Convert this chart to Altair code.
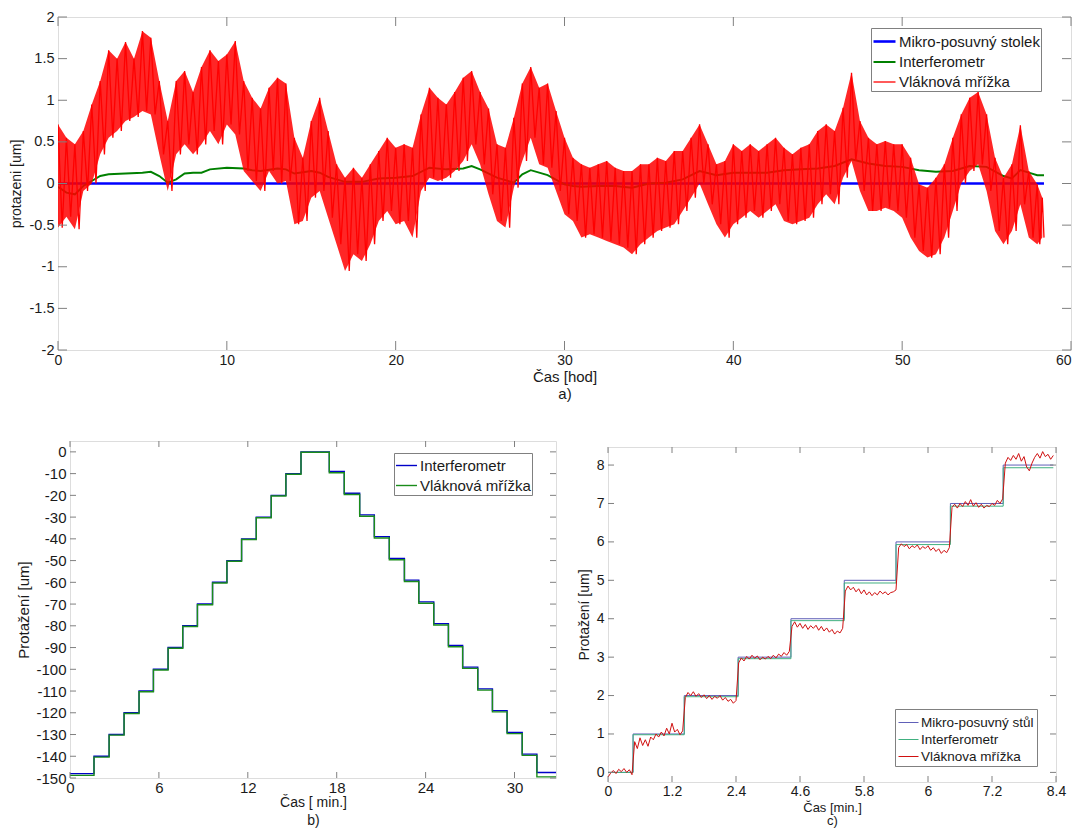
import json
import altair as alt
import pandas as pd

FONT = "Liberation Sans, Arial, sans-serif"
NARROW = "Liberation Sans Narrow, Arial Narrow, Liberation Sans, sans-serif"
GRAY = "#808080"
TXT = "#1a1a1a"

# ---------------- Panel a data ----------------
A_T = [0, 0.5, 1, 1.5, 2, 2.5, 3, 3.5, 4, 4.5, 5, 5.5, 6, 6.5, 7, 7.5, 8, 8.5, 9, 9.5,
       10, 10.5, 11, 11.5, 12, 12.5, 13, 13.5, 14, 14.5, 15, 15.5, 16, 16.5, 17, 17.5, 18, 18.5, 19, 19.5,
       20, 20.5, 21, 21.5, 22, 22.5, 23, 23.5, 24, 24.5, 25, 25.5, 26, 26.5, 27, 27.5, 28, 28.5, 29, 29.5,
       30, 30.5, 31, 31.5, 32, 32.5, 33, 33.5, 34, 34.5, 35, 35.5, 36, 36.5, 37, 37.5, 38, 38.5, 39, 39.5,
       40, 40.5, 41, 41.5, 42, 42.5, 43, 43.5, 44, 44.5, 45, 45.5, 46, 46.5, 47, 47.5, 48, 48.5, 49, 49.5,
       50, 50.5, 51, 51.5, 52, 52.5, 53, 53.5, 54, 54.5, 55, 55.5, 56, 56.5, 57, 57.5, 58, 58.3]
A_HI = [0.71, 0.55, 0.47, 0.63, 0.95, 1.23, 1.60, 1.50, 1.70, 1.50, 1.83, 1.75, 1.23, 0.75, 1.23, 1.35, 1.10, 1.40, 1.60, 1.47,
        1.55, 1.71, 1.23, 1.03, 0.90, 1.15, 1.27, 1.20, 0.55, 0.31, 0.75, 1.03, 0.63, 0.23, 0.07, 0.19, 0.07, 0.23, 0.39, 0.55,
        0.43, 0.47, 0.43, 0.83, 1.15, 1.03, 0.95, 1.10, 1.27, 1.35, 1.10, 0.90, 0.47, 0.43, 0.79, 1.20, 1.40, 1.15, 1.20, 0.87,
        0.55, 0.31, 0.23, 0.19, 0.23, 0.27, 0.19, 0.15, 0.15, 0.23, 0.23, 0.31, 0.27, 0.39, 0.39, 0.55, 0.71, 0.47, 0.23, 0.27,
        0.47, 0.39, 0.47, 0.39, 0.47, 0.55, 0.43, 0.35, 0.43, 0.47, 0.63, 0.71, 0.63, 0.91, 1.33, 0.75, 0.55, 0.47, 0.51, 0.47,
        0.47, 0.31, -0.01, -0.05, 0.07, 0.23, 0.55, 0.83, 1.03, 1.10, 0.83, 0.31, 0.07, 0.23, 0.70, 0.15, -0.01, -0.17]
A_LO = [-0.53, -0.40, -0.55, -0.09, 0.00, 0.35, 0.55, 0.63, 0.75, 0.80, 0.87, 0.83, 0.35, -0.09, 0.35, 0.47, 0.35, 0.47, 0.63, 0.47,
        0.71, 0.59, 0.15, 0.03, -0.09, 0.15, 0.00, 0.03, -0.49, -0.45, -0.17, -0.09, -0.41, -0.73, -1.05, -0.85, -0.93, -0.73, -0.45, -0.33,
        -0.49, -0.45, -0.65, -0.09, 0.07, 0.03, 0.07, 0.15, 0.27, 0.47, 0.23, -0.13, -0.45, -0.53, -0.05, 0.27, 0.55, 0.23, 0.19, -0.09,
        -0.37, -0.45, -0.65, -0.61, -0.65, -0.69, -0.73, -0.77, -0.85, -0.73, -0.65, -0.57, -0.53, -0.49, -0.33, -0.17, 0.00, -0.25, -0.49, -0.65,
        -0.49, -0.41, -0.33, -0.41, -0.33, -0.25, -0.45, -0.49, -0.45, -0.41, -0.25, -0.13, -0.25, 0.07, 0.27, -0.09, -0.33, -0.33, -0.29, -0.33,
        -0.41, -0.65, -0.81, -0.89, -0.85, -0.65, -0.33, 0.00, 0.15, 0.23, -0.09, -0.57, -0.73, -0.57, -0.25, -0.65, -0.73, -0.65]

A_GREEN_T = [0, 0.5, 1, 1.5, 2, 2.5, 3, 4, 5, 5.5, 6, 6.5, 7, 7.5, 8, 8.5, 9, 10, 11, 11.5, 12, 13, 13.5, 14,
             15, 15.5, 16, 17, 18, 19, 20, 21, 22, 23, 24, 24.5, 25, 26, 27, 27.5, 28, 28.5, 29, 30, 30.5, 31,
             32, 33, 34, 35, 36, 37, 38, 39, 40, 41, 42, 43, 44, 45, 46, 47, 48, 49, 50, 51, 52, 53, 54, 55, 56,
             56.5, 57, 57.5, 58, 58.4]
A_GREEN_V = [-0.04, -0.11, -0.13, -0.03, 0.03, 0.09, 0.11, 0.12, 0.13, 0.14, 0.09, 0.01, 0.05, 0.12, 0.13, 0.13, 0.17,
             0.19, 0.18, 0.16, 0.15, 0.18, 0.17, 0.12, 0.15, 0.13, 0.08, 0.02, 0.02, 0.06, 0.07, 0.09, 0.19, 0.17,
             0.18, 0.21, 0.17, 0.07, 0.01, 0.11, 0.16, 0.13, 0.10, -0.01, -0.03, -0.04, -0.03, -0.03, -0.05, 0.00,
             0.01, 0.05, 0.15, 0.10, 0.13, 0.13, 0.13, 0.16, 0.17, 0.18, 0.21, 0.29, 0.24, 0.21, 0.20, 0.16, 0.14,
             0.15, 0.21, 0.20, 0.09, 0.06, 0.16, 0.13, 0.10, 0.10]
A_BLUE_T = [0, 58.4]
A_BLUE_V = [0, 0]

A_NAMES = ["Mikro-posuvný stolek", "Interferometr", "Vláknová mřížka"]
A_COLORS = ["#0000ff", "#008000", "#ff0000"]
A_WIDTHS = [2.6, 1.3, 0.7]
A_XTICKS = [0, 10, 20, 30, 40, 50, 60]
A_YTICKS = [-2, -1.5, -1, -0.5, 0, 0.5, 1, 1.5, 2]

# ---------------- Panel b data ----------------
B_T = [0, 1.62, 2.64, 3.65, 4.66, 5.63, 6.62, 7.61, 8.60, 9.62, 10.59, 11.58, 12.57, 13.58, 14.57, 15.59,
       17.50, 18.51, 19.55, 20.54, 21.55, 22.57, 23.54, 24.55, 25.54, 26.50, 27.52, 28.51, 29.50, 30.52, 31.51, 32.8]
B_INTERF = [-148, -140, -130, -120, -110, -100, -90, -80, -70, -60, -50, -40, -30, -20, -10, 0,
            -9, -19, -29, -39, -49, -59, -69, -79, -89, -99, -109, -119, -129, -139, -147.5, -147.5]
B_GRATING = [-148.8, -140.4, -130.3, -120.3, -110.3, -100.3, -90.3, -80.3, -70.3, -60.3, -50.3, -40.3, -30.3, -20.3, -10.3, -0.2,
             -9.6, -19.6, -29.6, -39.6, -49.6, -59.6, -69.6, -79.6, -89.6, -99.6, -109.6, -119.6, -129.6, -139.6, -149.5, -149.5]
B_NAMES = ["Interferometr", "Vláknová mřížka"]
B_COLORS = ["#0000c8", "#1a8c1a"]
B_XTICKS = [0, 6, 12, 18, 24, 30]
B_YTICKS = [0, -10, -20, -30, -40, -50, -60, -70, -80, -90, -100, -110, -120, -130, -140, -150]

# ---------------- Panel c data ----------------
C_T = [0, 0.47, 1.43, 2.44, 3.43, 4.43, 5.40, 6.42, 7.41, 8.35]
C_STAGE = [0, 1, 2, 3, 4, 5, 6, 7, 8, 8]
C_INTERF = [0.0, 0.98, 1.97, 2.96, 3.95, 4.93, 5.93, 6.93, 7.93, 7.93]
C_RED_DT = 0.05
C_RED = [-0.12, -0.02, 0.05, -0.03, 0.08, 0.02, 0.10, 0.00, 0.07, -0.06,
         0.80, 0.62, 0.90, 0.70, 0.85, 0.68, 0.92, 0.85, 1.00, 0.92, 1.05, 0.95, 1.15, 1.00, 1.28, 1.05, 1.12, 0.98, 1.08,
         1.95, 2.08, 2.00, 2.10, 1.98, 2.05, 1.95, 2.02, 1.92, 2.00, 1.90, 1.98, 1.93, 2.00, 1.88, 1.95, 1.85, 1.90, 1.80, 1.87,
         2.85, 2.98, 2.90, 3.02, 2.95, 3.05, 2.97, 3.03, 2.93, 3.00, 2.95, 3.02, 2.96, 3.05, 2.98, 3.08, 3.02, 3.12, 3.05, 3.15,
         3.80, 3.92, 3.78, 3.88, 3.75, 3.85, 3.72, 3.82, 3.75, 3.83, 3.70, 3.80, 3.68, 3.76, 3.65, 3.72, 3.60, 3.68, 3.63, 3.75,
         4.72, 4.85, 4.75, 4.82, 4.70, 4.78, 4.65, 4.75, 4.62, 4.70, 4.60, 4.68, 4.62, 4.72, 4.65, 4.70, 4.62, 4.68, 4.70, 4.75,
         5.85, 5.95, 5.88, 5.93, 5.82, 5.90, 5.85, 5.92, 5.80, 5.88, 5.83, 5.90, 5.78, 5.85, 5.75, 5.82, 5.70, 5.78, 5.72, 5.85,
         6.90, 6.98, 6.88, 7.00, 6.92, 7.05, 6.95, 7.10, 6.93, 7.02, 6.90, 6.98, 6.88, 6.95, 6.92, 7.00, 6.95, 7.08, 7.00, 7.12,
         8.05, 8.20, 8.12, 8.25, 8.15, 8.30, 8.10, 8.22, 7.95, 7.85, 8.05, 8.20, 8.30, 8.18, 8.35, 8.22, 8.28, 8.15, 8.25]
C_NAMES = ["Mikro-posuvný stůl", "Interferometr", "Vláknova mřížka"]
C_COLORS = ["#6060b8", "#40b080", "#d01010"]
C_XTICKS = [0, 1.2, 2.4, 3.6, 4.8, 6.0, 7.2, 8.4]
C_XLABELS = ["0", "1.2", "2.4", "4.6", "5.8", "6", "7.2", "8.4"]
C_YTICKS = [0, 1, 2, 3, 4, 5, 6, 7, 8]

# ---------------- geometry ----------------
W_A, H_A = 1013, 333
W_B, H_B = 486, 337
W_C, H_C = 448, 335

NUM = "'' + datum.value"


def inward_ticks(xt, yt, W, H, L, X, Y):
    xdf = pd.DataFrame({"x": xt})
    ydf = pd.DataFrame({"y": yt})
    m = dict(color=GRAY, strokeWidth=1)
    return [
        alt.Chart(xdf).mark_rule(**m).encode(x=X, y=alt.value(H), y2=alt.value(H - L)),
        alt.Chart(xdf).mark_rule(**m).encode(x=X, y=alt.value(0), y2=alt.value(L)),
        alt.Chart(ydf).mark_rule(**m).encode(y=Y, x=alt.value(0), x2=alt.value(L)),
        alt.Chart(ydf).mark_rule(**m).encode(y=Y, x=alt.value(W - L), x2=alt.value(W)),
    ]


def legend(x, y, size=14, row=-1, sym=400, pad=4):
    return alt.Legend(title=None, orient="none", legendX=x, legendY=y, symbolType="stroke",
                      symbolSize=sym, labelFont=FONT, labelFontSize=size, labelColor=TXT,
                      strokeColor=GRAY, fillColor="white", padding=pad, rowPadding=row,
                      labelOffset=2, symbolOffset=0)


def series_layer(df, names, colors, widths, leg, X, Y, interp=None):
    kw = {}
    if interp:
        kw["interpolate"] = interp
    return alt.Chart(df).mark_line(clip=True, **kw).encode(
        x=X, y=Y,
        color=alt.Color("s:N", scale=alt.Scale(domain=names, range=colors), legend=leg),
        strokeWidth=alt.StrokeWidth("s:N", scale=alt.Scale(domain=names, range=widths), legend=leg),
        order="i:Q",
    )


# ---------------- Panel a ----------------
xs_a = alt.Scale(domain=[0, 60], nice=False, zero=False)
ys_a = alt.Scale(domain=[-2, 2], nice=False, zero=False)
ax_xa = alt.Axis(values=A_XTICKS, labelExpr=NUM, ticks=False, domain=False, grid=False,
                 labelPadding=3, labelFont=FONT, labelFontSize=14, labelColor=TXT, labelFlush=False,
                 labelAlign={"condition": {"test": "datum.value >= 60", "value": "right"}, "value": "center"},
                 labelOverlap=False, title=["Čas [hod]", "a)"], titleFont=NARROW, titleFontSize=15,
                 titleFontWeight="normal", titleColor=TXT, titlePadding=2, titleLineHeight=17)
ax_ya = alt.Axis(values=A_YTICKS, labelExpr=NUM, ticks=False, domain=False, grid=False,
                 labelPadding=4, labelFont=FONT, labelFontSize=14.5, labelColor=TXT, labelOverlap=False,
                 minExtent=29, maxExtent=29, title="protazeni [um]", titleFont=FONT, titleFontSize=14,
                 titleFontWeight="normal", titleColor=TXT, titlePadding=6)
XA = alt.X("x:Q", scale=xs_a, axis=ax_xa)
YA = alt.Y("y:Q", scale=ys_a, axis=ax_ya)
leg_a = legend(813, 11, size=15, row=-3, sym=484, pad=1)

blue_a = pd.DataFrame({"x": A_BLUE_T, "y": A_BLUE_V, "s": A_NAMES[0], "i": range(len(A_BLUE_T))})
green_a = pd.DataFrame({"x": A_GREEN_T, "y": A_GREEN_V, "s": A_NAMES[1], "i": range(len(A_GREEN_T))})
zx, zy = [], []
for k, t in enumerate(A_T):
    half = (A_T[k + 1] - t) / 2 if k + 1 < len(A_T) else 0.1
    zx += [t, t + half]
    zy += [A_HI[k], A_LO[k]]
red_a = pd.DataFrame({"x": zx, "y": zy, "s": A_NAMES[2], "i": range(len(zx))})
band_a = pd.DataFrame({"x": A_T, "y": A_LO, "y2": A_HI})

band_layer = alt.Chart(band_a).mark_area(color="#ff0000", opacity=0.85, clip=True).encode(
    x=XA, y=YA, y2="y2:Q"
)

panel_a = alt.layer(
    series_layer(blue_a, A_NAMES, A_COLORS, A_WIDTHS, leg_a, XA, YA),
    series_layer(green_a, A_NAMES, A_COLORS, A_WIDTHS, leg_a, XA, YA),
    band_layer,
    series_layer(red_a, A_NAMES, A_COLORS, A_WIDTHS, leg_a, XA, YA),
    *inward_ticks(A_XTICKS, A_YTICKS, W_A, H_A, 9, XA, YA),
).properties(width=W_A, height=H_A)

# ---------------- Panel b ----------------
xs_b = alt.Scale(domain=[0, 32.8], nice=False, zero=False)
ys_b = alt.Scale(domain=[-150, 5], nice=False, zero=False)
ax_xb = alt.Axis(values=B_XTICKS, labelExpr=NUM, ticks=False, domain=False, grid=False,
                 labelPadding=2, labelFont=FONT, labelFontSize=15, labelColor=TXT, labelFlush=False,
                 labelOverlap=False, title=["Čas [ min.]", "b)"], titleFont=NARROW, titleFontSize=14,
                 titleFontWeight="normal", titleColor=TXT, titlePadding=0, titleLineHeight=18)
ax_yb = alt.Axis(values=B_YTICKS, labelExpr=NUM, ticks=False, domain=False, grid=False,
                 labelPadding=4, labelFont=FONT, labelFontSize=15, labelColor=TXT, labelOverlap=False,
                 minExtent=34, maxExtent=34, title="Protažení [um]", titleFont=FONT, titleFontSize=15,
                 titleFontWeight="normal", titleColor=TXT, titlePadding=5)
XB = alt.X("x:Q", scale=xs_b, axis=ax_xb)
YB = alt.Y("y:Q", scale=ys_b, axis=ax_yb)
leg_b = legend(324, 12, size=15, row=-2, sym=441, pad=1)
b1 = pd.DataFrame({"x": B_T, "y": B_INTERF, "s": B_NAMES[0], "i": range(len(B_T))})
b2 = pd.DataFrame({"x": B_T, "y": B_GRATING, "s": B_NAMES[1], "i": range(len(B_T))})
panel_b = alt.layer(
    series_layer(b1, B_NAMES, B_COLORS, [1.4, 1.4], leg_b, XB, YB, "step-after"),
    series_layer(b2, B_NAMES, B_COLORS, [1.4, 1.4], leg_b, XB, YB, "step-after"),
    *inward_ticks(B_XTICKS, B_YTICKS, W_B, H_B, 6, XB, YB),
).properties(width=W_B, height=H_B)

# ---------------- Panel c ----------------
xs_c = alt.Scale(domain=[0, 8.4], nice=False, zero=False)
ys_c = alt.Scale(domain=[-0.25, 8.47], nice=False, zero=False)
c_label_expr = json.dumps(C_XLABELS).replace('"', "'") + "[round(datum.value / 1.2)]"
ax_xc = alt.Axis(values=C_XTICKS, labelExpr=c_label_expr, ticks=False, domain=False, grid=False,
                 labelPadding=2, labelFont=FONT, labelFontSize=14, labelColor=TXT, labelFlush=False,
                 labelOverlap=False, title=["Čas [min.]", "c)"], titleFont=NARROW, titleFontSize=13,
                 titleFontWeight="normal", titleColor=TXT, titlePadding=3, titleLineHeight=13)
ax_yc = alt.Axis(values=C_YTICKS, labelExpr=NUM, ticks=False, domain=False, grid=False,
                 labelPadding=4, labelFont=FONT, labelFontSize=14, labelColor=TXT, labelOverlap=False,
                 minExtent=13, maxExtent=13, title="Protažení [um]", titleFont=FONT, titleFontSize=14,
                 titleFontWeight="normal", titleColor=TXT, titlePadding=4)
XC = alt.X("x:Q", scale=xs_c, axis=ax_xc)
YC = alt.Y("y:Q", scale=ys_c, axis=ax_yc)
leg_c = legend(287, 262, size=13.5, row=-2.5, sym=400, pad=3)
c1 = pd.DataFrame({"x": C_T, "y": C_STAGE, "s": C_NAMES[0], "i": range(len(C_T))})
c2 = pd.DataFrame({"x": C_T, "y": C_INTERF, "s": C_NAMES[1], "i": range(len(C_T))})
c_red_t = [round(k * C_RED_DT, 3) for k in range(len(C_RED))]
c3 = pd.DataFrame({"x": c_red_t, "y": C_RED, "s": C_NAMES[2], "i": range(len(C_RED))})
panel_c = alt.layer(
    series_layer(c1, C_NAMES, C_COLORS, [1.0, 1.0, 1.0], leg_c, XC, YC, "step-after"),
    series_layer(c2, C_NAMES, C_COLORS, [1.0, 1.0, 1.0], leg_c, XC, YC, "step-after"),
    series_layer(c3, C_NAMES, C_COLORS, [1.0, 1.0, 1.0], leg_c, XC, YC),
    *inward_ticks(C_XTICKS, C_YTICKS, W_C, H_C, 6, XC, YC),
).properties(width=W_C, height=H_C)


def spacer():
    return alt.Chart(pd.DataFrame({"x": [0]})).mark_point(opacity=0).encode(
        x=alt.X("x:Q", axis=None), y=alt.Y("x:Q", axis=None)
    ).properties(width=1, height=1, view=alt.ViewBackground(stroke="transparent"))


IND = dict(color="independent", strokeWidth="independent", x="independent", y="independent")

c_col = alt.vconcat(spacer(), panel_c, spacing=5, bounds="flush").resolve_scale(**IND)
bc = alt.hconcat(panel_b, c_col, spacing=52, bounds="flush").resolve_scale(**IND)
bottom = alt.hconcat(spacer(), bc, spacing=11, bounds="flush").resolve_scale(**IND)

chart = alt.vconcat(panel_a, bottom, spacing=91, bounds="flush").resolve_scale(**IND).properties(
    padding={"left": 0, "top": 0, "right": 0, "bottom": 0}
).configure_view(stroke=GRAY, strokeWidth=1).configure(font=FONT)

chart.save("out.html", embed_options={"renderer": "svg", "actions": False})
